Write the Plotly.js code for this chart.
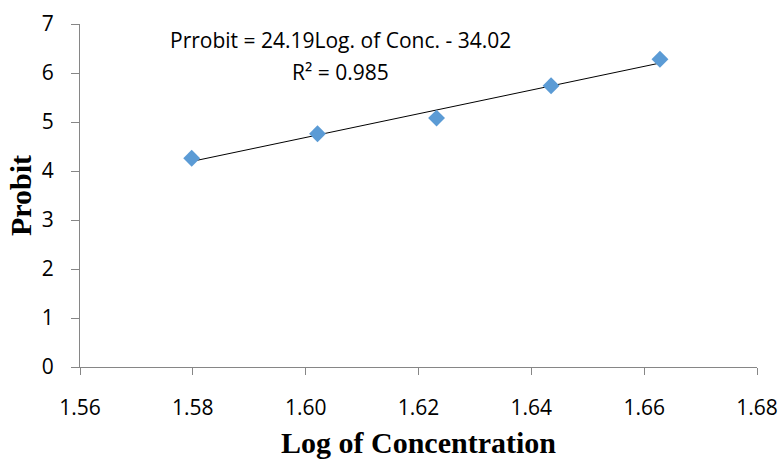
<!DOCTYPE html>
<html><head><meta charset="utf-8">
<script src="https://cdn.plot.ly/plotly-3.0.1.min.js"></script>
<style>body{margin:0;background:#fff}#c{width:780px;height:459px}</style>
</head><body><div id="c"></div>
<script>
const logConc = [1.5798, 1.6021, 1.6232, 1.6435, 1.6628];
const probit = [4.26, 4.76, 5.08, 5.74, 6.28];
const slope = 24.19, intercept = -34.02;
const eqText = "Prrobit = 24.19Log. of Conc. - 34.02";
const r2Text = "R² = 0.985";
const xTicks = [1.56, 1.58, 1.60, 1.62, 1.64, 1.66, 1.68];
const xTickText = ["1.56", "1.58", "1.60", "1.62", "1.64", "1.66", "1.68"];
const yTicks = [0, 1, 2, 3, 4, 5, 6, 7];

const xmin = Math.min(...logConc), xmax = Math.max(...logConc);
const trendX = [xmin, xmax];
const trendY = trendX.map(x => slope * x + intercept);

const tickFont = {family: "Open Sans, Liberation Sans, sans-serif", size: 21, color: "#000"};
const titleFont = {family: "Liberation Serif, serif", size: 30, color: "#000", weight: "bold"};
const data = [
  {x: trendX, y: trendY, mode: "lines", line: {color: "#000", width: 1}, hoverinfo: "skip", showlegend: false},
  {x: logConc, y: probit, mode: "markers", marker: {symbol: "diamond", size: 13, color: "#5B9BD5"}, showlegend: false}
];
const layout = {
  width: 780, height: 459,
  margin: {l: 80, r: 23, t: 24, b: 92},
  paper_bgcolor: "#fff", plot_bgcolor: "#fff",
  xaxis: {range: [1.56, 1.68], tickvals: xTicks, ticktext: xTickText, showgrid: false, zeroline: false,
    showline: true, linecolor: "#868686", linewidth: 1, ticks: "outside", ticklen: 7, tickcolor: "#868686",
    tickfont: tickFont, ticklabelstandoff: 15,
    title: {text: "Log of Concentration", font: titleFont, standoff: 12}},
  yaxis: {range: [0, 7], tickvals: yTicks, showgrid: false, zeroline: false,
    showline: true, linecolor: "#868686", linewidth: 1, ticks: "outside", ticklen: 8, tickcolor: "#868686",
    tickfont: tickFont, ticklabelstandoff: 13,
    title: {text: "Probit", font: titleFont, standoff: 1}},
  annotations: [
    {xref: "paper", yref: "paper", x: (340 - 80) / 677, y: (367 - 40) / 343, text: eqText, showarrow: false,
      xanchor: "center", yanchor: "middle", font: tickFont},
    {xref: "paper", yref: "paper", x: (340 - 80) / 677, y: (367 - 72) / 343, text: r2Text, showarrow: false,
      xanchor: "center", yanchor: "middle", font: tickFont}
  ]
};
Plotly.newPlot("c", data, layout, {staticPlot: true});
</script></body></html>
